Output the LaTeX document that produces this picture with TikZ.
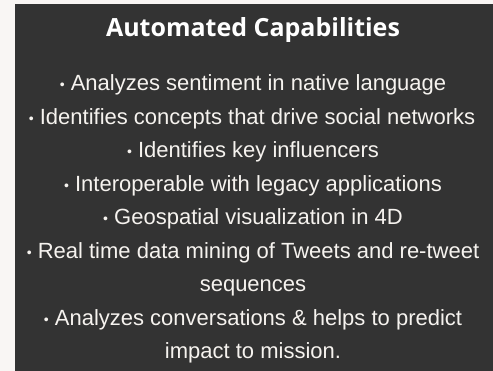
\documentclass[tikz,border=0pt]{standalone}
\usepackage{fontspec}
\setmainfont{Liberation Sans}
\newfontfamily\headfont{Open Sans}
\usetikzlibrary{positioning}
\definecolor{pagebg}{HTML}{F9F6F4}
\definecolor{panelgray}{HTML}{333333}
\definecolor{itemtext}{HTML}{F6F3EF}
\newcommand{\smallbullet}{\raisebox{1pt}{\fontsize{14}{14}\selectfont •}}

\begin{document}
\begin{tikzpicture}[x=1pt,y=-1pt,
        heading/.style={anchor=base, text=white, inner sep=0pt,
            font=\headfont\bfseries\fontsize{25}{30}\selectfont},
        item/.style={anchor=base, text=itemtext, align=center, inner sep=0pt,
            font=\fontsize{22}{33.5}\selectfont}]
            % page and dark panel
            \fill[pagebg] (0,0) rectangle (493,371);
            \fill[panelgray] (15,4) rectangle (493,371);

            \node[heading] (title) at (253,36.5) {Automated Capabilities};
            \node[item] (sentiment) at (253,91) {\smallbullet{} Analyzes sentiment in native language};
            \node[item] (concepts) at (252,124.5) {\smallbullet{} Identifies concepts that drive social networks};
            \node[item] (influencers) at (253,158) {\smallbullet{} Identifies key influencers};
            \node[item] (legacy) at (253,191.5) {\smallbullet{} Interoperable with legacy applications};
            \node[item] (geo) at (253,225) {\smallbullet{} Geospatial visualization in 4D};
            % two-line items: base is the last line
            \node[item] (tweets) at (253,292) {\smallbullet{} Real time data mining of Tweets and re-tweet\\sequences};
            \node[item] (mission) at (253,359) {\smallbullet{} Analyzes conversations \& helps to predict\\impact to mission.};
        \end{tikzpicture}
\end{document}
